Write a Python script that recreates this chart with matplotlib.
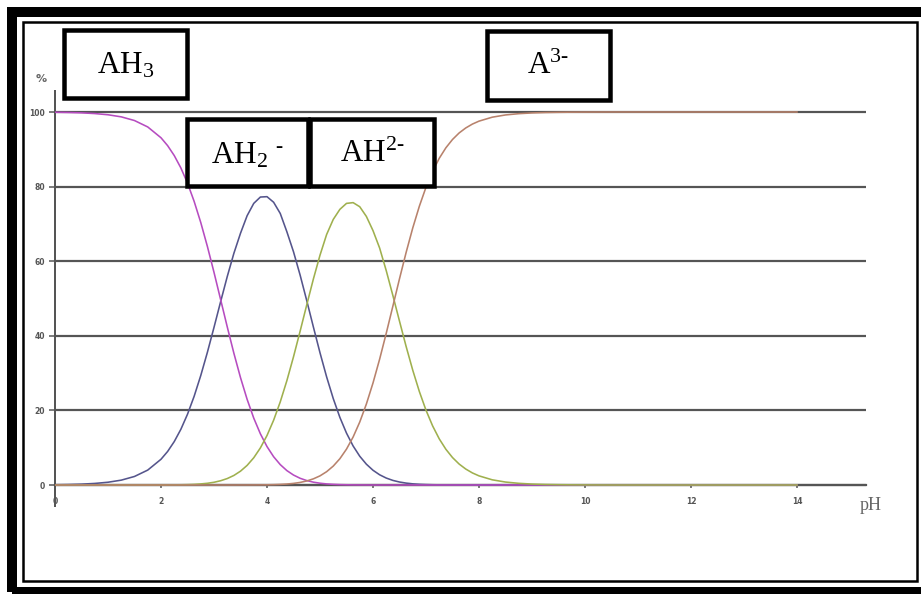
import matplotlib
matplotlib.use("Agg")
import matplotlib.pyplot as plt
from matplotlib.patches import Rectangle

# ---- data ----
ph = [0.0, 0.25, 0.5, 0.75, 1.0, 1.25, 1.5, 1.75,
      2.0, 2.125, 2.25, 2.375, 2.5, 2.625, 2.75, 2.875, 3.0, 3.125, 3.25, 3.375, 3.5, 3.625, 3.75, 3.875,
      4.0, 4.125, 4.25, 4.375, 4.5, 4.625, 4.75, 4.875, 5.0, 5.125, 5.25, 5.375, 5.5, 5.625, 5.75, 5.875,
      6.0, 6.125, 6.25, 6.375, 6.5, 6.625, 6.75, 6.875, 7.0, 7.125, 7.25, 7.375, 7.5, 7.625, 7.75, 7.875, 8.0,
      8.25, 8.5, 8.75, 9.0, 9.25, 9.5, 9.75, 10.0,
      10.5, 11.0, 11.5, 12.0, 12.5, 13.0, 13.5, 14.0]

ah3 = [99.93, 99.87, 99.77, 99.58, 99.26, 98.70, 97.71, 95.99,
       93.09, 90.98, 88.32, 85.00, 80.93, 76.05, 70.38, 63.97, 57.01, 49.71, 42.39, 35.33, 28.79, 22.96, 17.93, 13.73,
       10.30, 7.58, 5.47, 3.86, 2.67, 1.80, 1.19, 0.76, 0.48, 0.29, 0.18, 0.10, 0.06, 0.03, 0.02, 0.01,
       0.0, 0.0, 0.0, 0.0, 0.0, 0.0, 0.0, 0.0, 0.0, 0.0, 0.0, 0.0, 0.0, 0.0, 0.0, 0.0, 0.0,
       0.0, 0.0, 0.0, 0.0, 0.0, 0.0, 0.0, 0.0,
       0.0, 0.0, 0.0, 0.0, 0.0, 0.0, 0.0, 0.0]

ah2 = [0.07, 0.13, 0.23, 0.42, 0.74, 1.30, 2.29, 4.00,
       6.90, 8.99, 11.64, 14.94, 18.97, 23.77, 29.34, 35.56, 42.26, 49.15, 55.88, 62.11, 67.49, 72.20, 75.50, 77.20,
       77.30, 75.80, 72.80, 67.89, 62.53, 56.27, 49.43, 42.37, 35.45, 28.98, 23.17, 18.13, 13.91, 10.46, 7.71, 5.58,
       3.95, 2.74, 1.86, 1.23, 0.80, 0.51, 0.31, 0.19, 0.12, 0.07, 0.04, 0.02, 0.01, 0.0, 0.0, 0.0, 0.0,
       0.0, 0.0, 0.0, 0.0, 0.0, 0.0, 0.0, 0.0,
       0.0, 0.0, 0.0, 0.0, 0.0, 0.0, 0.0, 0.0]

ah = [0.0, 0.0, 0.0, 0.0, 0.0, 0.0, 0.0, 0.0,
      0.01, 0.02, 0.04, 0.06, 0.10, 0.17, 0.29, 0.46, 0.73, 1.14, 1.73, 2.56, 3.71, 5.26, 7.30, 9.94,
      13.27, 17.37, 22.28, 27.98, 34.37, 41.24, 48.30, 55.22, 61.61, 67.16, 71.20, 73.90, 75.50, 75.70, 74.60, 72.00,
      68.20, 63.53, 57.46, 50.80, 43.92, 37.14, 30.78, 25.04, 20.05, 15.84, 12.37, 9.58, 7.36, 5.62, 4.28, 3.24, 2.45,
      1.39, 0.79, 0.45, 0.25, 0.14, 0.08, 0.04, 0.02,
      0.0, 0.0, 0.0, 0.0, 0.0, 0.0, 0.0, 0.0]

a3 = [0.0, 0.0, 0.0, 0.0, 0.0, 0.0, 0.0, 0.0,
      0.0, 0.0, 0.0, 0.0, 0.0, 0.0, 0.0, 0.0, 0.0, 0.0, 0.0, 0.0, 0.01, 0.01, 0.02, 0.03,
      0.05, 0.09, 0.16, 0.26, 0.43, 0.69, 1.08, 1.65, 2.45, 3.57, 5.07, 7.05, 9.62, 12.87, 16.88, 21.71,
      27.35, 33.73, 40.68, 47.96, 55.29, 62.35, 68.91, 74.76, 79.83, 84.09, 87.59, 90.40, 92.63, 94.38, 95.72, 96.76, 97.55,
      98.61, 99.21, 99.55, 99.75, 99.86, 99.92, 99.96, 99.98,
      100.0, 100.0, 100.0, 100.0, 100.0, 100.0, 100.0, 100.0]

x_ticks = [0, 2, 4, 6, 8, 10, 12, 14]
y_ticks = [0, 20, 40, 60, 80, 100]

species = [r"$\mathrm{AH}_{3}$", r"$\mathrm{AH}_{2}\ {}^{\text{-}}$", r"$\mathrm{AH}^{2\text{-}}$", r"$\mathrm{A}^{3\text{-}}$"]

assert len(ph) == len(ah3) == len(ah2) == len(ah) == len(a3)

# ---- style ----
plt.rcParams["mathtext.fontset"] = "custom"
plt.rcParams["mathtext.rm"] = "Liberation Serif"
plt.rcParams["mathtext.it"] = "Liberation Serif:italic"
plt.rcParams["mathtext.bf"] = "Liberation Serif:bold"
plt.rcParams["mathtext.default"] = "regular"

W, H = 921, 594
DPI = 100
fig = plt.figure(figsize=(W / DPI, H / DPI), dpi=DPI)
fig.patch.set_facecolor("white")


def px_lw(p):
    return p * 72.0 / DPI


def fx(x):
    return x / W


def fy(y):
    return 1 - y / H


# axes: data x 0 at px 55, 53 px per unit; y 0 at px 485, 3.73 px per unit
xmin, xmax = 0, 15.3
ymin, ymax = -8, 108
ppx, ppy = 53.0, 3.73
left_px = 55
bottom_px = 485 - ymin * ppy
ax = fig.add_axes([fx(left_px), fy(bottom_px), (xmax - xmin) * ppx / W, (ymax - ymin) * ppy / H])
ax.set_xlim(xmin, xmax)
ax.set_ylim(ymin, ymax)
ax.patch.set_alpha(0)

grid_col = "#555555"
for s in ["top", "right"]:
    ax.spines[s].set_visible(False)
ax.spines["left"].set_bounds(-5.5, 105.5)
ax.spines["left"].set_color(grid_col)
ax.spines["left"].set_linewidth(px_lw(2))
ax.spines["bottom"].set_position(("data", 0))
ax.spines["bottom"].set_color(grid_col)
ax.spines["bottom"].set_linewidth(px_lw(2.2))
ax.spines["bottom"].set_zorder(0.5)

ax.set_yticks(y_ticks)
ax.set_yticklabels([str(v) for v in y_ticks])
ax.set_xticks(x_ticks)
ax.set_xticklabels([str(v) for v in x_ticks])
ax.tick_params(axis="y", length=px_lw(6), width=px_lw(1.5), color=grid_col, pad=px_lw(4),
               labelsize=5.5, labelcolor="#555555")
ax.tick_params(axis="x", length=px_lw(3), width=px_lw(1.5), color=grid_col, pad=px_lw(9),
               labelsize=5.5, labelcolor="#555555")
for lab in ax.get_xticklabels() + ax.get_yticklabels():
    lab.set_fontweight("bold")

ax.yaxis.grid(True, color=grid_col, linewidth=px_lw(2.2))
ax.xaxis.grid(False)
ax.set_axisbelow(True)

lw = px_lw(1.6)
ax.plot(ph, ah2, color="#55558c", lw=lw, zorder=3)
ax.plot(ph, ah3, color="#b64cc0", lw=lw, zorder=4)
ax.plot(ph, ah, color="#9fb04e", lw=lw, zorder=5)
ax.plot(ph, a3, color="#b8826c", lw=lw, zorder=6)

# axis titles
fig.text(fx(41), fy(79), "%", ha="center", va="center", fontsize=8, fontweight="bold", color="#666666")
fig.text(fx(871), fy(510), "pH", ha="center", va="baseline", fontsize=13,
         family="Liberation Serif", color="#666666")

# page frame
fig.add_artist(Rectangle((fx(12), fy(592)), (924 - 12) / W, (592 - 12) / H, transform=fig.transFigure,
                         fill=False, ec="black", lw=px_lw(10), zorder=10))
fig.add_artist(Rectangle((fx(22.5), fy(580.5)), (916.5 - 22.5) / W, (580.5 - 22) / H, transform=fig.transFigure,
                         fill=False, ec="black", lw=px_lw(2.5), zorder=10))

# species label boxes (centre-line pixel coords: x0, x1, y0, y1, text baseline)
boxes = [(64, 187, 30, 98, 73), (187, 308, 119, 186, 163), (310, 434, 119, 186, 162), (487, 610, 31, 100, 74)]
for (x0, x1, y0, y1, yb), lab in zip(boxes, species):
    fig.add_artist(Rectangle((fx(x0), fy(y1)), (x1 - x0) / W, (y1 - y0) / H, transform=fig.transFigure,
                             fc="white", ec="black", lw=px_lw(4.5), zorder=11))
    fig.text(fx((x0 + x1) / 2), fy(yb), lab, ha="center", va="baseline", fontsize=22.5,
             family="Liberation Serif", color="black", zorder=12)

fig.savefig("out.png", dpi=DPI)
